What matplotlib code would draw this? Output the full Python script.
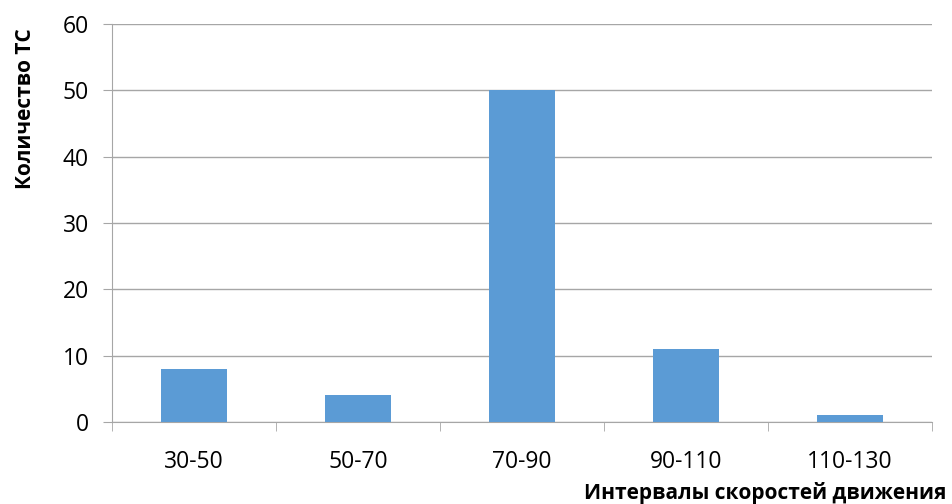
import matplotlib.pyplot as plt

categories = ["30-50", "50-70", "70-90", "90-110", "110-130"]
counts = [8, 4, 50, 11, 1]

plt.rcParams['font.family'] = ['Open Sans', 'DejaVu Sans']

fig = plt.figure(figsize=(9.53, 5.04), dpi=100)
ax = fig.add_axes([0.1175, 0.1627, 0.8605, 0.7893])

x = range(len(categories))
ax.bar(x, counts, width=0.4, color="#5B9BD5", zorder=3)

ax.set_xlim(-0.5, len(categories) - 0.5)
ax.set_ylim(0, 60)
ax.set_yticks(range(0, 61, 10))
ax.set_xticks(x)
ax.set_xticklabels(categories)
ax.set_xticks([i - 0.5 for i in range(len(categories) + 1)], minor=True)

ax.grid(axis="y", color="#a6a6a6", linewidth=1, zorder=0)
for side in ["top", "right"]:
    ax.spines[side].set_visible(False)
for side in ["left", "bottom"]:
    ax.spines[side].set_color("#a6a6a6")
ax.tick_params(axis="y", length=6.5, color="#a6a6a6", labelsize=16.5, pad=10)
ax.tick_params(axis="x", which="major", length=0, labelsize=16.5, pad=20)
ax.tick_params(axis="x", which="minor", length=6.5, color="#a6a6a6")

ax.set_ylabel("Количество ТС", fontsize=15, fontweight="bold")
ax.yaxis.set_label_coords(-0.093, 0.99)
ax.yaxis.label.set_horizontalalignment("right")
ax.set_xlabel("Интервалы скоростей движения", fontsize=15, fontweight="bold")
ax.xaxis.set_label_coords(1.017, -0.152)
ax.xaxis.label.set_horizontalalignment("right")

fig.savefig("out.png", dpi=100)
